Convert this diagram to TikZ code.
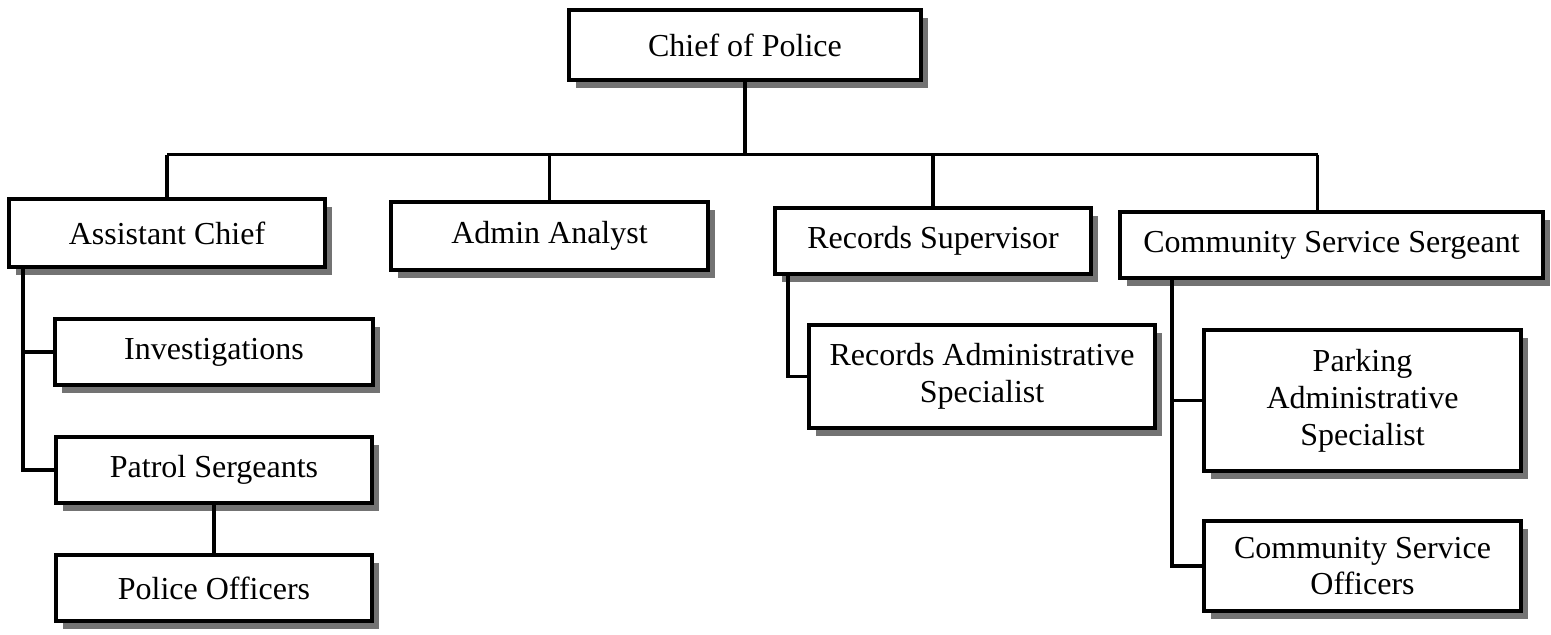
\documentclass[tikz,border=0pt]{standalone}
\usepackage{fontspec}
\setmainfont{Liberation Serif}
\usetikzlibrary{positioning,shadows}

\begin{document}
\begin{tikzpicture}[node distance=24pt,thick,
    unit box/.style={rectangle,draw,line width=2pt,fill=white,inner sep=0pt,align=center,
        font=\fontsize{16}{18.4}\selectfont,
        drop shadow={shadow xshift=3.6pt,shadow yshift=-3.8pt,fill=black!55,opacity=1}},
    link/.style={line width=1.8pt}]
    \useasboundingbox (0,0) rectangle (775.5pt,-317pt);

    % top of the chart
    \node[unit box,minimum width=176pt,minimum height=35pt] (chief) at (372.5pt,-22.5pt) {Chief of Police};

    \node[unit box,minimum width=158pt,minimum height=34pt] (asst) at (83.5pt,-116.5pt) {Assistant Chief};
    \node[unit box,minimum width=158.5pt,minimum height=34pt] (admin) at (274.75pt,-118pt) {Admin Analyst};
    \node[unit box,minimum width=158pt,minimum height=33pt] (rec) at (466.5pt,-120.5pt) {Records Supervisor};
    \node[unit box,minimum width=211.5pt,minimum height=33pt] (css) at (665.75pt,-122.5pt) {Community Service Sergeant};

    % second level
    \node[unit box,minimum width=159pt,minimum height=33pt] (inv) at (107pt,-176pt) {Investigations};
    \node[unit box,minimum width=158pt,minimum height=33pt] (patrol) [below=of inv] {Patrol Sergeants};
    \node[unit box,minimum width=158pt,minimum height=33pt] (officers) [below=of patrol] {Police Officers};
    \node[unit box,minimum width=173pt,minimum height=51.5pt] (recspec) at (491pt,-188.25pt) {Records Administrative\\Specialist};
    \node[unit box,minimum width=158.5pt,minimum height=70.5pt] (parking) at (681.25pt,-200.25pt) {Parking\\Administrative\\Specialist};
    \node[unit box,minimum width=158.5pt,minimum height=45pt] (cso) [below=23pt of parking] {Community Service\\Officers};

    \coordinate (bus) at (372.5pt,-77.25pt);
    \coordinate (cssTop) at ([xshift=-7pt]css.north);
    \coordinate (asstL) at ([xshift=8pt]asst.south west);
    \coordinate (recL) at ([xshift=7.5pt]rec.south west);
    \coordinate (cssL) at ([xshift=27pt]css.south west);

    \draw[link] (chief) -- (bus);
    \draw[link] (bus -| asst) -- (bus -| cssTop);
    \draw[link] (bus -| asst) -- (asst);
    \draw[link] (bus -| admin) -- (admin);
    \draw[link] (bus -| rec) -- (rec);
    \draw[link] (bus -| cssTop) -- (cssTop);

    \draw[link] (asstL) |- (patrol.west);
    \draw[link] (asstL |- inv.west) -- (inv.west);
    \draw[link] (patrol) -- (officers);
    \draw[link] (recL) |- (recspec.west);
    \draw[link] (cssL) |- (cso.west);
    \draw[link] (cssL |- parking.west) -- (parking.west);

\end{tikzpicture}
\end{document}
